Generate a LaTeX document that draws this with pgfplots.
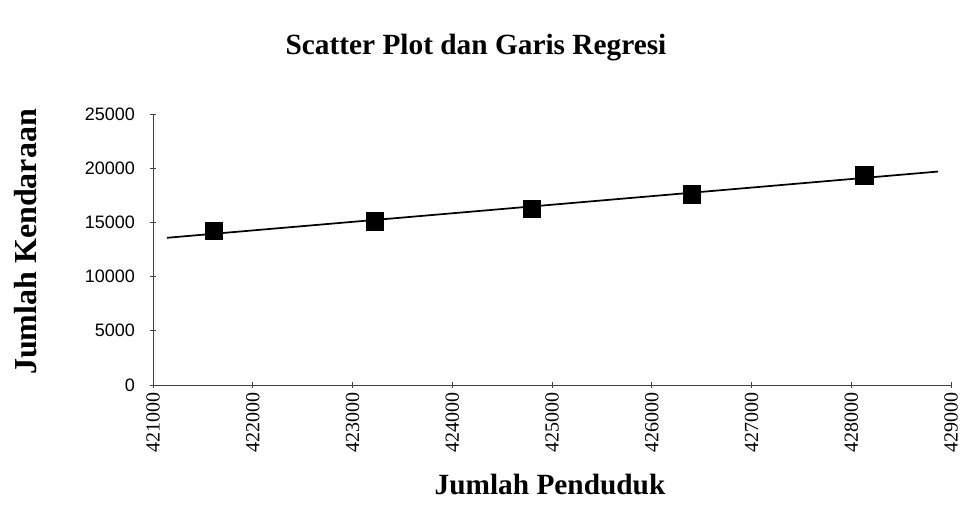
\documentclass[border=0pt]{standalone}
\usepackage{pgfplots}
\pgfplotsset{compat=1.18}
\usepackage{fontspec}
\setmainfont{Liberation Serif}
\newfontfamily\arial{Liberation Sans}
\begin{document}
\begin{tikzpicture}
\path[use as bounding box] (0,0) rectangle (723.75pt,385.5pt);
\begin{axis}[
  at={(114.75pt,96.75pt)}, anchor=south west,
  scale only axis, width=598.5pt, height=203.25pt,
  xmin=421000, xmax=429000, ymin=0, ymax=25000,
  scaled x ticks=false, scaled y ticks=false,
  axis x line=bottom, axis y line=left,
  axis line style={-, black!75, line width=0.5pt},
  xtick={421000,422000,423000,424000,425000,426000,427000,428000,429000},
  xticklabels={421000,422000,423000,424000,425000,426000,427000,428000,429000},
  ytick={0,5000,10000,15000,20000,25000},
  yticklabels={0,5000,10000,15000,20000,25000},
  tick align=center, major tick length=4pt,
  tick style={black!75, line width=0.5pt},
  xticklabel style={font=\fontsize{15}{15}\selectfont, rotate=90, anchor=east},
  yticklabel style={font=\arial\fontsize{13.5}{13.5}\selectfont, anchor=east, xshift=-8pt},
  clip=false,
]
\addplot[black, line width=1.3pt, no marks] coordinates {(421140,13580) (428870,19690)};
\addplot[only marks, mark=square*, mark size=6.5pt, black] coordinates {
(421609,14200) (423220,15100) (424800,16240) (426400,17600) (428130,19350)};
\end{axis}
\node[font=\bfseries\fontsize{22}{22}\selectfont] at (357pt,349.5pt) {Scatter Plot dan Garis Regresi};
\node[font=\bfseries\fontsize{24}{24}\selectfont, rotate=90] at (19.5pt,204pt) {Jumlah Kendaraan};
\node[font=\bfseries\fontsize{22}{22}\selectfont] at (412.5pt,21.75pt) {Jumlah Penduduk};
\end{tikzpicture}
\end{document}
